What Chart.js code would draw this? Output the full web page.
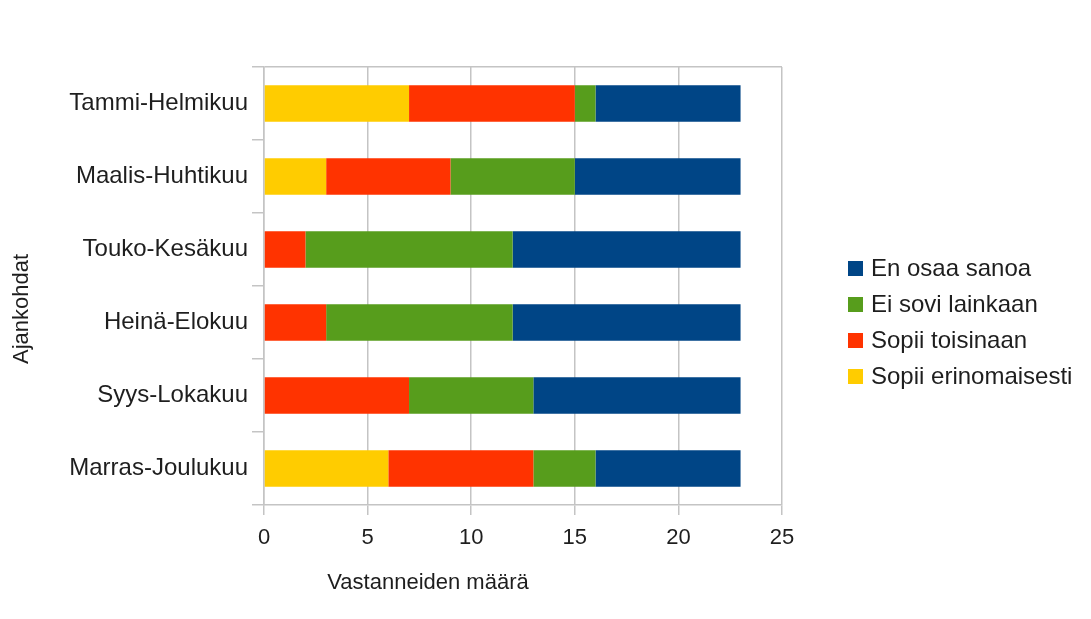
<!DOCTYPE html>
<html>
<head>
<meta charset="utf-8">
<script src="https://cdn.jsdelivr.net/npm/chart.js@4/dist/chart.umd.min.js"></script>
<style>
  html, body { margin: 0; padding: 0; background: #fff; }
  #wrap { width: 1091px; height: 619px; position: relative; }
</style>
</head>
<body>
<div id="wrap"><canvas id="chart"></canvas></div>
<script>
const periods = ['Tammi-Helmikuu', 'Maalis-Huhtikuu', 'Touko-Kesäkuu', 'Heinä-Elokuu', 'Syys-Lokakuu', 'Marras-Joulukuu'];
const sopiiErinomaisesti = [7, 3, 0, 0, 0, 6];
const sopiiToisinaan = [8, 6, 2, 3, 7, 7];
const eiSoviLainkaan = [1, 6, 10, 9, 6, 3];
const enOsaaSanoa = [7, 8, 11, 11, 10, 7];
const xTicks = [0, 5, 10, 15, 20, 25];

const FONT = '"Liberation Sans", Arial, sans-serif';
const GRID = '#c4c4c4';
const TEXT = '#1e1e1e';

// axis titles + legend drawn by hand so they sit where the original has them
const extras = {
    id: 'extras',
    afterDraw(chart) {
        const ctx = chart.ctx;
        const a = chart.chartArea;
        ctx.save();
        ctx.fillStyle = TEXT;
        ctx.font = '22px ' + FONT;
        ctx.textAlign = 'center';
        ctx.textBaseline = 'middle';
        ctx.fillText('Vastanneiden määrä', a.left + 164, a.bottom + 78);
        ctx.save();
        ctx.translate(22, a.top + 242);
        ctx.rotate(-Math.PI / 2);
        ctx.fillText('Ajankohdat', 0, 0);
        ctx.restore();

        const ds = chart.data.datasets.slice().reverse();
        ctx.font = '24px ' + FONT;
        ctx.textAlign = 'left';
        ds.forEach((d, i) => {
            const y = a.top + 201 + i * 36;
            ctx.fillStyle = d.backgroundColor;
            ctx.fillRect(a.right + 66, y - 7, 15, 15);
            ctx.fillStyle = TEXT;
            ctx.fillText(d.label, a.right + 89, y + 1);
        });
        ctx.restore();
    }
};

new Chart(document.getElementById('chart'), {
    type: 'bar',
    data: {
        labels: periods,
        datasets: [
            { label: 'Sopii erinomaisesti', data: sopiiErinomaisesti, backgroundColor: '#ffcc00' },
            { label: 'Sopii toisinaan', data: sopiiToisinaan, backgroundColor: '#ff3300' },
            { label: 'Ei sovi lainkaan', data: eiSoviLainkaan, backgroundColor: '#579d1c' },
            { label: 'En osaa sanoa', data: enOsaaSanoa, backgroundColor: '#004586' }
        ]
    },
    options: {
        indexAxis: 'y',
        responsive: true,
        maintainAspectRatio: false,
        animation: false,
        datasets: { bar: { categoryPercentage: 1, barPercentage: 0.5, borderWidth: 0 } },
        layout: { padding: { top: 67, right: 309, bottom: 0, left: 0 } },
        plugins: {
            legend: { display: false },
            tooltip: { enabled: false }
        },
        scales: {
            x: {
                stacked: true,
                min: 0,
                max: 25,
                afterBuildTicks: s => { s.ticks = xTicks.map(v => ({ value: v })); },
                afterFit: s => { s.height = 114; },
                grid: { color: GRID, lineWidth: 1.5, tickLength: 10 },
                border: { color: GRID, width: 1.5 },
                ticks: { color: TEXT, font: { family: FONT, size: 22 }, padding: 10 }
            },
            y: {
                stacked: true,
                afterFit: s => { s.width = 264; },
                grid: {
                    offset: true,
                    color: c => (c.index === 0 ? GRID : 'rgba(0,0,0,0)'),
                    tickColor: GRID,
                    lineWidth: 1.5,
                    tickLength: 12
                },
                border: { color: GRID, width: 1.5 },
                ticks: { color: TEXT, font: { family: FONT, size: 24 }, padding: 4 }
            }
        }
    },
    plugins: [extras]
});
</script>
</body>
</html>
